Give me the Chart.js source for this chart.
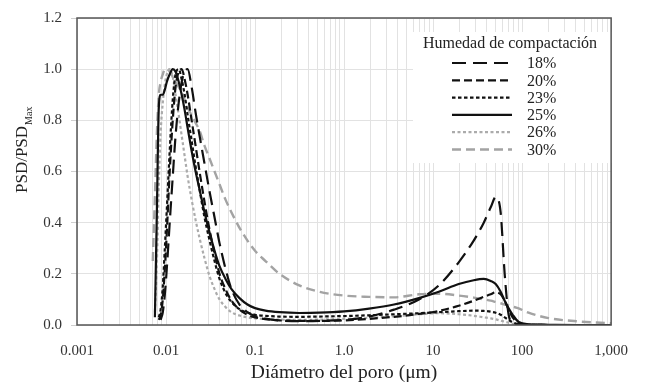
<!DOCTYPE html>
<html>
<head>
<meta charset="utf-8">
<script src="https://cdn.jsdelivr.net/npm/chart.js@4.4.1/dist/chart.umd.min.js"></script>
<style>
  html, body { margin: 0; padding: 0; background: #fff; }
  #wrap { width: 645px; height: 387px; }
</style>
</head>
<body>
<div id="wrap"><canvas id="c" width="645" height="387"></canvas></div>
<script>
// Pore diameters (µm) shared by all curves
const diametros = [0.0071, 0.0075, 0.0079, 0.0083, 0.0087, 0.0092, 0.0097, 0.0102, 0.011, 0.0119,
  0.0128, 0.0139, 0.015, 0.0162, 0.0175, 0.0194, 0.0215, 0.0238, 0.0271, 0.0309,
  0.0351, 0.0399, 0.0466, 0.0544, 0.0669, 0.0822, 0.1, 0.131, 0.188, 0.314,
  0.526, 1.0, 1.91, 3.64, 6.93, 11.6, 19.4, 28.6, 37.1, 44.4,
  50.5, 57.4, 63.7, 70.6, 78.3, 91.4, 118, 198, 429, 1000];

// Normalised PSD for each compaction moisture content
const psd18 = [null, null, null, null, 0.02, 0.05, 0.12, 0.22, 0.40, 0.58,
  0.74, 0.87, 0.95, 0.99, 1.00, 0.93, 0.83, 0.74, 0.63, 0.52,
  0.42, 0.32, 0.22, 0.14, 0.08, 0.05, 0.035, 0.025, 0.018, 0.015,
  0.016, 0.02, 0.033, 0.06, 0.10, 0.155, 0.245, 0.33, 0.40, 0.46,
  0.50, 0.44, 0.20, 0.04, 0.01, 0.003, 0.001, 0, 0, 0];
const psd20 = [null, null, null, 0.02, 0.04, 0.10, 0.22, 0.36, 0.60, 0.80,
  0.93, 0.99, 1.00, 0.96, 0.90, 0.80, 0.70, 0.60, 0.48, 0.37,
  0.28, 0.20, 0.14, 0.095, 0.06, 0.04, 0.03, 0.023, 0.018, 0.016,
  0.016, 0.018, 0.024, 0.032, 0.043, 0.055, 0.075, 0.095, 0.11, 0.12,
  0.128, 0.12, 0.095, 0.06, 0.03, 0.008, 0.002, 0, 0, 0];
const psd23 = [null, null, null, 0.03, 0.06, 0.15, 0.30, 0.45, 0.68, 0.88,
  0.98, 1.00, 0.96, 0.90, 0.82, 0.72, 0.62, 0.53, 0.42, 0.33,
  0.25, 0.18, 0.125, 0.09, 0.062, 0.048, 0.04, 0.036, 0.033, 0.032,
  0.033, 0.035, 0.038, 0.042, 0.046, 0.05, 0.054, 0.056, 0.055, 0.052,
  0.048, 0.04, 0.03, 0.02, 0.01, 0.003, 0.001, 0, 0, 0];
const psd25 = [null, 0.03, 0.45, 0.85, 0.90, 0.90, 0.92, 0.95, 0.98, 1.00,
  0.99, 0.95, 0.90, 0.84, 0.77, 0.68, 0.60, 0.53, 0.44, 0.36,
  0.29, 0.23, 0.18, 0.14, 0.105, 0.08, 0.066, 0.056, 0.05, 0.047,
  0.048, 0.053, 0.064, 0.08, 0.105, 0.13, 0.16, 0.175, 0.18, 0.172,
  0.16, 0.13, 0.095, 0.065, 0.04, 0.012, 0.003, 0.001, 0, 0];
const psd26 = [null, 0.05, 0.25, 0.55, 0.75, 0.87, 0.94, 0.98, 1.00, 0.97,
  0.90, 0.82, 0.74, 0.66, 0.58, 0.49, 0.41, 0.34, 0.26, 0.19,
  0.14, 0.10, 0.07, 0.05, 0.037, 0.03, 0.026, 0.023, 0.021, 0.02,
  0.021, 0.024, 0.028, 0.034, 0.042, 0.046, 0.042, 0.036, 0.03, 0.026,
  0.022, 0.017, 0.013, 0.009, 0.005, 0.002, 0, 0, 0, 0];
const psd30 = [0.25, 0.50, 0.75, 0.90, 0.95, 0.98, 1.00, 1.00, 0.99, 0.97,
  0.95, 0.93, 0.91, 0.88, 0.85, 0.82, 0.79, 0.76, 0.70, 0.65,
  0.60, 0.55, 0.49, 0.44, 0.38, 0.33, 0.29, 0.25, 0.20, 0.155,
  0.13, 0.115, 0.11, 0.108, 0.12, 0.122, 0.115, 0.107, 0.10, 0.095,
  0.09, 0.085, 0.08, 0.077, 0.072, 0.065, 0.048, 0.027, 0.014, 0.007];

const etiquetas = ['18%', '20%', '23%', '25%', '26%', '30%'];
const series = [psd18, psd20, psd23, psd25, psd26, psd30];

// Labelled decades on the diameter axis
const decadas = [0.001, 0.01, 0.1, 1, 10, 100, 1000];
const decadasTexto = ['0.001', '0.01', '0.1', '1.0', '10', '100', '1,000'];

const estilos = [
  { color: '#111', dash: [14, 7], width: 2.2 },
  { color: '#111', dash: [8, 4], width: 2.2 },
  { color: '#111', dash: [3.5, 2.5], width: 2.2 },
  { color: '#111', dash: [], width: 2.2 },
  { color: '#ababab', dash: [3, 2.5], width: 2.2 },
  { color: '#a3a3a3', dash: [9, 5], width: 2.4 }
];

const FUENTE = '"Liberation Serif", "Times New Roman", serif';
Chart.defaults.font.family = FUENTE;
Chart.defaults.color = '#333';

const datasets = series.map((vals, i) => ({
  label: etiquetas[i],
  data: diametros.map((d, j) => ({ x: d, y: vals[j] })),
  borderColor: estilos[i].color,
  borderDash: estilos[i].dash,
  borderWidth: estilos[i].width,
  pointRadius: 0,
  fill: false,
  spanGaps: false,
  cubicInterpolationMode: 'monotone'
}));

// Legend box in the upper right of the plot
const leyenda = {
  id: 'leyendaHumedad',
  afterDraw(chart) {
    const ctx = chart.ctx;
    ctx.save();
    ctx.fillStyle = '#fff';
    ctx.fillRect(413, 32, 199, 131);
    ctx.fillStyle = '#222';
    ctx.font = '16px ' + FUENTE;
    ctx.textBaseline = 'middle';
    ctx.textAlign = 'center';
    ctx.fillText('Humedad de compactación', 510, 44);
    chart.data.datasets.forEach((ds, i) => {
      const y = 63 + i * 17.3;
      ctx.strokeStyle = ds.borderColor;
      ctx.lineWidth = ds.borderWidth;
      ctx.setLineDash(ds.borderDash || []);
      ctx.beginPath();
      ctx.moveTo(452, y);
      ctx.lineTo(512, y);
      ctx.stroke();
      ctx.setLineDash([]);
      ctx.textAlign = 'left';
      ctx.fillText(ds.label, 527, y + 1);
    });
    ctx.restore();
  }
};

// Frame around the plot area and the y-axis title with subscript
const marco = {
  id: 'marcoYTitulo',
  afterDraw(chart) {
    const ctx = chart.ctx;
    const a = chart.chartArea;
    ctx.save();
    ctx.strokeStyle = '#555';
    ctx.lineWidth = 1.5;
    ctx.strokeRect(a.left, a.top, a.right - a.left, a.bottom - a.top);

    ctx.translate(27, 193);
    ctx.rotate(-Math.PI / 2);
    ctx.fillStyle = '#222';
    ctx.textAlign = 'left';
    ctx.textBaseline = 'alphabetic';
    ctx.font = '17px ' + FUENTE;
    ctx.fillText('PSD/PSD', 0, 0);
    const w = ctx.measureText('PSD/PSD').width;
    ctx.font = '10px ' + FUENTE;
    ctx.fillText('Max', w + 1, 5);
    ctx.restore();
  }
};

new Chart(document.getElementById('c'), {
  type: 'line',
  data: { datasets },
  plugins: [leyenda, marco],
  options: {
    responsive: false,
    animation: false,
    devicePixelRatio: 1,
    layout: { padding: { left: 0, right: 32, top: 16, bottom: 0 } },
    plugins: { legend: { display: false }, tooltip: { enabled: false } },
    scales: {
      x: {
        type: 'logarithmic',
        position: 'bottom',
        min: 0.001,
        max: 1000,
        afterBuildTicks(scale) {
          const t = [];
          for (let e = -3; e < 3; e++) {
            for (let m = 1; m < 10; m++) t.push({ value: m * Math.pow(10, e) });
          }
          t.push({ value: 1000 });
          scale.ticks = t;
        },
        afterFit(scale) { scale.height = 62; },
        ticks: {
          autoSkip: false,
          maxRotation: 0,
          minRotation: 0,
          padding: 17,
          color: '#333',
          font: { size: 15 },
          callback(value) {
            const k = decadas.findIndex(d => Math.abs(value / d - 1) < 1e-6);
            return k >= 0 ? decadasTexto[k] : '';
          }
        },
        grid: { color: '#e2e2e2', lineWidth: 1, drawTicks: false },
        border: { display: false },
        title: {
          display: true,
          text: 'Diámetro del poro (μm)',
          color: '#222',
          font: { size: 19.5 },
          padding: { top: 2, bottom: 2 }
        }
      },
      y: {
        type: 'linear',
        min: 0,
        max: 1.2,
        afterFit(scale) { scale.width = 77; },
        ticks: {
          stepSize: 0.2,
          padding: 9,
          color: '#333',
          font: { size: 15 },
          callback(v) { return Number(v).toFixed(1); }
        },
        grid: { color: '#e2e2e2', tickColor: '#cfcfcf', tickLength: 6, lineWidth: 1 },
        border: { display: false }
      }
    }
  }
});
</script>
</body>
</html>
